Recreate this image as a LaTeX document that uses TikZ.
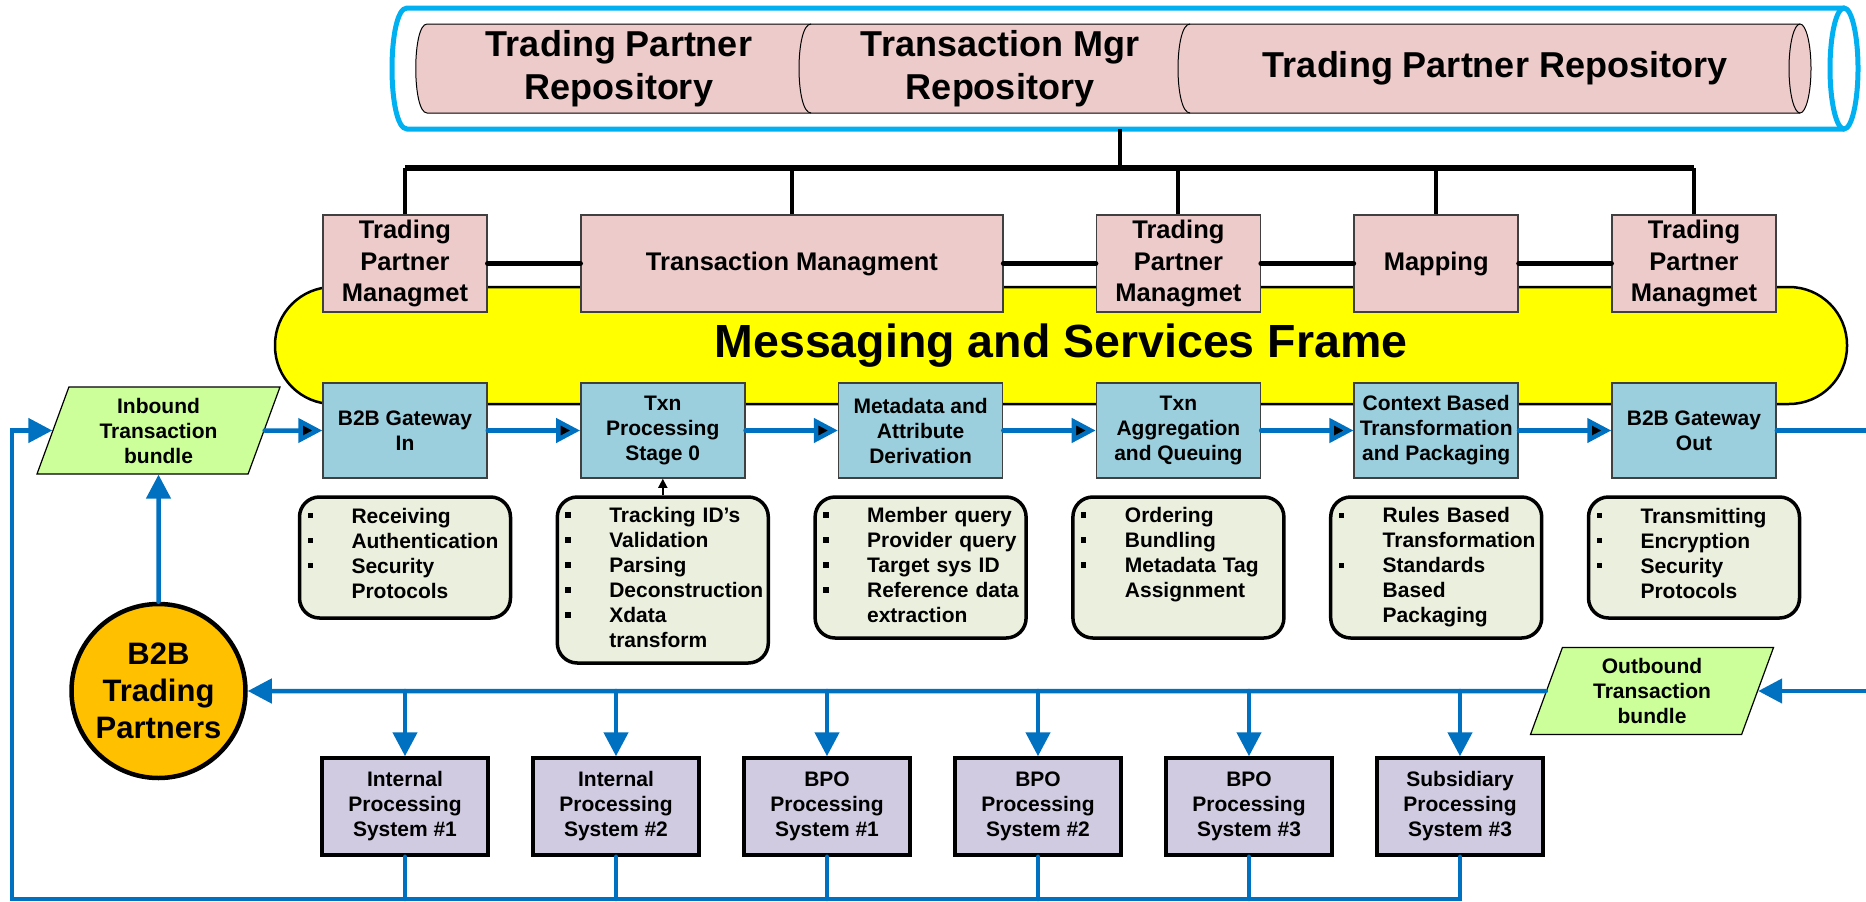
\documentclass[tikz,border=0pt]{standalone}
\usepackage{fontspec}
\setmainfont{Liberation Sans}
\usetikzlibrary{arrows.meta,positioning,shapes.geometric}

\definecolor{repoblue}{HTML}{00B0F0}
\definecolor{repopink}{HTML}{ECCBCA}
\definecolor{frameyellow}{HTML}{FFFF00}
\definecolor{procblue}{HTML}{9BCFDE}
\definecolor{notegreen}{HTML}{EBEFDE}
\definecolor{bundlegreen}{HTML}{CCFF99}
\definecolor{partnerorange}{HTML}{FFC000}
\definecolor{syspurple}{HTML}{D1CBE1}
\definecolor{flowblue}{HTML}{0070C0}

\newcommand{\itm}[1]{\makebox[44pt][l]{\rule[4.75pt]{5.5pt}{5.5pt}}\mbox{#1}}
\newcommand{\cnt}[1]{\hspace*{44pt}\mbox{#1}}

\tikzset{
  smalltxt/.style={font=\fontsize{21}{25}\selectfont\bfseries},
  repotext/.style={align=center, font=\fontsize{36}{43}\selectfont\bfseries},
  msgframe/.style={draw, line width=2.5pt, fill=frameyellow, rounded corners=58pt,
    minimum width=1572pt, minimum height=117pt, font=\fontsize{46.5}{52}\selectfont\bfseries},
  mgmt/.style={draw=black!75, line width=1.5pt, fill=repopink, minimum width=164pt,
    minimum height=97pt, inner sep=0pt, align=center, font=\fontsize{25.5}{31.5}\selectfont\bfseries},
  proc/.style={draw=black!75, line width=1.5pt, fill=procblue, minimum width=164pt,
    minimum height=95pt, inner sep=0pt, align=center, smalltxt},
  notebox/.style={draw, line width=3.5pt, fill=notegreen, rounded corners=20pt,
    text width=195pt, inner xsep=8pt, align=left, smalltxt},
  sysbox/.style={draw, line width=3.5pt, fill=syspurple, minimum width=166pt,
    minimum height=97pt, inner sep=0pt, align=center, smalltxt},
  bundle/.style={trapezium, trapezium left angle=64, trapezium right angle=116,
    trapezium stretches body, draw, line width=1.2pt, fill=bundlegreen,
    minimum width=243pt, minimum height=87pt, inner sep=0pt, align=center, smalltxt},
  partner/.style={circle, draw, line width=4.5pt, fill=partnerorange, minimum size=174pt,
    inner sep=0pt, align=center, font=\fontsize{31}{37}\selectfont\bfseries},
  flow/.style={draw=flowblue, line width=4.5pt, line cap=round, -{Triangle[length=24pt,width=24pt]}},
  flowline/.style={draw=flowblue, line width=4.5pt, line cap=round},
  repline/.style={line width=4pt},
  repbar/.style={line width=5.5pt},
  mgmtlink/.style={line width=5.5pt, line cap=round}
}

\begin{document}
\begin{tikzpicture}[x=1pt, y=-1pt, on grid, node distance=257.8pt]
	\useasboundingbox (0,0) rectangle (1866,902);
	
	% repository cylinder
	\draw[repoblue, line width=5pt] (1844,8) -- (407,8) .. controls (387,8) and (387,129) .. (407,129) -- (1844,129);
	\draw[repoblue, line width=5pt] (1844,68.5) ellipse [x radius=14, y radius=60.5];
	\filldraw[fill=repopink, line width=1pt] (1800,24) -- (427,24) .. controls (412,24) and (412,113) .. (427,113) -- (1800,113);
	\filldraw[fill=repopink, line width=1pt] (1800,68.5) ellipse [x radius=11, y radius=44.5];
	\draw[line width=1pt] (811,24) .. controls (795,24) and (795,113) .. (811,113);
	\draw[line width=1pt] (1190,24) .. controls (1174,24) and (1174,113) .. (1190,113);
	\node[repotext] (R_1) at (619,68.5) {Trading Partner\\Repository};
	\node[repotext] (R_2) at (1000,68.5) {Transaction Mgr\\Repository};
	\node[repotext] (R_3) at (1495,68.5) {Trading Partner Repository};
	\coordinate (repo) at (1120,129);
	\coordinate (T_0) at (1120,168);
	
	\node[msgframe] (MSF) at (1061,345.5) {Messaging and Services Frame};
	
	% processing chain
	\node[proc] (B_1) at (405,430.5) {B2B Gateway\\In};
	\node[proc] (B_2) [right=of B_1] {Txn\\Processing\\Stage 0};
	\node[proc] (B_3) [right=of B_2] {Metadata and\\Attribute\\Derivation};
	\node[proc] (B_4) [right=of B_3] {Txn\\Aggregation\\and Queuing};
	\node[proc] (B_5) [right=of B_4] {Context Based\\Transformation\\and Packaging};
	\node[proc] (B_6) [right=of B_5] {B2B Gateway\\Out};
	
	% management
	\node[mgmt] (M_1) [above=167pt of B_1] {Trading\\Partner\\Managmet};
	\node[mgmt, minimum width=421.8pt] (M_2) [right=386.9pt of M_1] {Transaction Managment};
	\node[mgmt] (M_3) [above=167pt of B_4] {Trading\\Partner\\Managmet};
	\node[mgmt] (M_4) [above=167pt of B_5] {Mapping};
	\node[mgmt] (M_5) [above=167pt of B_6] {Trading\\Partner\\Managmet};
	
	% notes
	\node[notebox, minimum height=121pt] (N_1) [below=127pt of B_1]
		{\itm{Receiving}\\\itm{Authentication}\\\itm{Security}\\\cnt{Protocols}\\[-16pt]\mbox{}};
	\node[notebox, minimum height=166pt] (N_2) [below=149.5pt of B_2]
		{\itm{Tracking ID's}\\\itm{Validation}\\\itm{Parsing}\\\itm{Deconstruction}\\\itm{Xdata}\\\cnt{transform}\\[-20pt]\mbox{}};
	\node[notebox, minimum height=141pt] (N_3) [below=137pt of B_3]
		{\itm{Member query}\\\itm{Provider query}\\\itm{Target sys ID}\\\itm{Reference data}\\\cnt{extraction}\\[-20pt]\mbox{}};
	\node[notebox, minimum height=141pt] (N_4) [below=137pt of B_4]
		{\itm{Ordering}\\\itm{Bundling}\\\itm{Metadata Tag}\\\cnt{Assignment}\\[4.8pt]\mbox{}};
	\node[notebox, minimum height=141pt] (N_5) [below=137pt of B_5]
		{\itm{Rules Based}\\\cnt{Transformation}\\\itm{Standards}\\\cnt{Based}\\\cnt{Packaging}};
	\node[notebox, minimum height=121pt] (N_6) [below=127pt of B_6]
		{\itm{Transmitting}\\\itm{Encryption}\\\itm{Security}\\\cnt{Protocols}\\[-16pt]\mbox{}};
	
	% partners and systems
	\node[bundle] (IN) [left=246.5pt of B_1] {Inbound\\Transaction\\bundle};
	\node[partner] (TP) at (158.5,691) {B2B\\Trading\\Partners};
	\node[bundle] (OUT) at (1652,691) {Outbound\\Transaction\\bundle};
	\node[sysbox] (S_1) [below=376pt of B_1] {Internal\\Processing\\System \#1};
	\node[sysbox] (S_2) [right=211pt of S_1] {Internal\\Processing\\System \#2};
	\node[sysbox] (S_3) [right=211pt of S_2] {BPO\\Processing\\System \#1};
	\node[sysbox] (S_4) [right=211pt of S_3] {BPO\\Processing\\System \#2};
	\node[sysbox] (S_5) [right=211pt of S_4] {BPO\\Processing\\System \#3};
	\node[sysbox] (S_6) [right=211pt of S_5] {Subsidiary\\Processing\\System \#3};
	\coordinate (E_1) at (1866,430.5);
	\coordinate (E_2) at (1866,691);
	\coordinate (L_1) at (12,899);
	
	% repository links
	\draw[repline] (repo) -- (T_0);
	\draw[repbar] (M_1.north |- T_0) -- (M_5.north |- T_0);
	\foreach \i in {1,...,5}
		\draw[repline] (M_\i.north |- T_0) -- (M_\i.north);
	\path[mgmtlink] (M_1) edge (M_2)
		(M_2) edge (M_3)
		(M_3) edge (M_4)
		(M_4) edge (M_5);
	
	% transaction flow
	\path[flow] (IN) edge (B_1)
		(B_1) edge (B_2)
		(B_2) edge (B_3)
		(B_3) edge (B_4)
		(B_4) edge (B_5)
		(B_5) edge (B_6);
	\draw[flowline] (B_6) -- (E_1);
	\draw[flow] (E_2) -- (OUT);
	\draw[flow] (OUT) -- (TP);
	\draw[flow] (TP) -- (IN);
	\foreach \i in {1,...,6}
		\draw[flow] (S_\i.north |- TP.east) -- (S_\i.north);
	\foreach \i in {1,...,5}
		\draw[flowline] (S_\i.south) -- (S_\i.south |- L_1);
	\draw[flow] (S_6.south) |- (L_1) |- (IN.west);
	\draw[line width=1.5pt, -{Triangle[length=9pt,width=9pt]}] (N_2) -- (B_2);
\end{tikzpicture}
\end{document}
